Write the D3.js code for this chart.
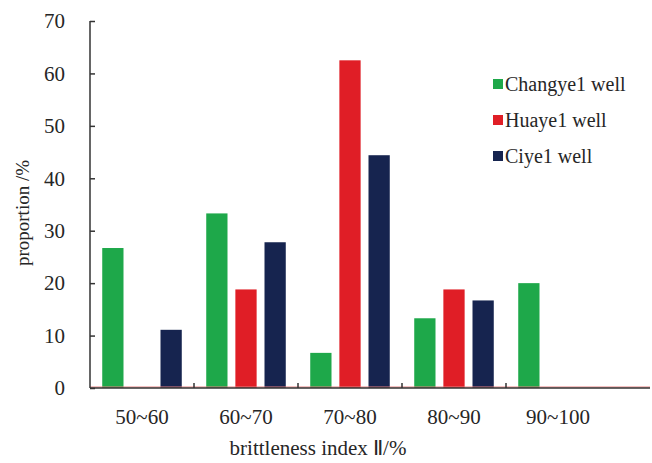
<!DOCTYPE html>
<html><head><meta charset="utf-8">
<script src="https://cdn.jsdelivr.net/npm/d3@7"></script>
<style>body{margin:0;background:#fff}svg{display:block}</style>
</head><body><svg id="c" width="652" height="463"></svg>
<script>
const categories = ["50~60","60~70","70~80","80~90","90~100"];
const seriesNames = ["Changye1 well","Huaye1 well","Ciye1 well"];
const changye = [26.7, 33.3, 6.7, 13.3, 20.0];
const huaye = [0, 18.8, 62.5, 18.8, 0];
const ciye = [11.1, 27.8, 44.4, 16.7, 0];
const yTicks = [0,10,20,30,40,50,60,70];
const colors = ["#1ea84a","#e01e26","#16244f"];

(function(){
const svg = d3.select("#c");
const font = "Liberation Serif, Times New Roman, serif";
const fs = 21, tc = "#262626";
const pL = 90, pR = 610, pT = 21, pB = 388;
const x0 = d3.scaleBand().domain(categories).range([pL, pR]).paddingInner(0).paddingOuter(0);
const x1 = d3.scaleBand().domain(seriesNames).range([0, x0.bandwidth()]).paddingInner(0.27).paddingOuter(0.42);
const y = d3.scaleLinear().domain([0,70]).range([pB, pT]);
const data = [changye, huaye, ciye];

const g = svg.append("g");
categories.forEach((c, i) => {
  seriesNames.forEach((s, j) => {
    const v = data[j][i];
    g.append("rect")
      .attr("x", x0(c) + x1(s))
      .attr("y", y(v))
      .attr("width", x1.bandwidth())
      .attr("height", Math.max(0, y(0) - y(v)))
      .attr("fill", colors[j]);
  });
});

svg.append("line").attr("x1", pL).attr("x2", 650).attr("y1", pB - 1).attr("y2", pB - 1)
  .attr("stroke", "#e88080").attr("stroke-width", 1);

const yAxis = d3.axisLeft(y).tickValues(yTicks).tickSize(-5).tickPadding(25);
const ya = svg.append("g").attr("transform", `translate(${pL},0)`).call(yAxis);
ya.select(".domain").attr("stroke", "#333").attr("stroke-width", 1.5).attr("d", `M0,${pT}V${pB}`);
ya.selectAll(".tick line").attr("stroke", "#333").attr("stroke-width", 1.5);
ya.selectAll("text").attr("font-family", font).attr("font-size", fs).attr("fill", tc);

const xAxis = d3.axisBottom(x0).tickSize(0).tickPadding(21);
const xa = svg.append("g").attr("transform", `translate(0,${pB})`).call(xAxis);
xa.select(".domain").attr("stroke", "#333").attr("stroke-width", 1.5).attr("d", `M${pL},0H650`);
xa.selectAll("text").attr("font-family", font).attr("font-size", fs).attr("fill", tc);
categories.slice(1).forEach(c => {
  svg.append("line").attr("x1", x0(c)).attr("x2", x0(c)).attr("y1", pB).attr("y2", pB - 5)
    .attr("stroke", "#333").attr("stroke-width", 1.5);
});

svg.append("text").attr("x", 318).attr("y", 455).attr("text-anchor", "middle")
  .attr("font-family", font).attr("font-size", fs).attr("fill", tc).text("brittleness index  Ⅱ/%");
svg.append("text").attr("transform", "translate(29,213) rotate(-90)").attr("text-anchor", "middle")
  .attr("font-family", font).attr("font-size", 19).attr("fill", tc).text("proportion /%");

seriesNames.forEach((s, j) => {
  const ly = 84 + j * 36;
  svg.append("rect").attr("x", 493).attr("y", ly - 5).attr("width", 10).attr("height", 10).attr("fill", colors[j]);
  svg.append("text").attr("x", 505).attr("y", ly + 7).attr("font-family", font).attr("font-size", 20)
    .attr("fill", tc).text(s);
});
})();
</script></body></html>
